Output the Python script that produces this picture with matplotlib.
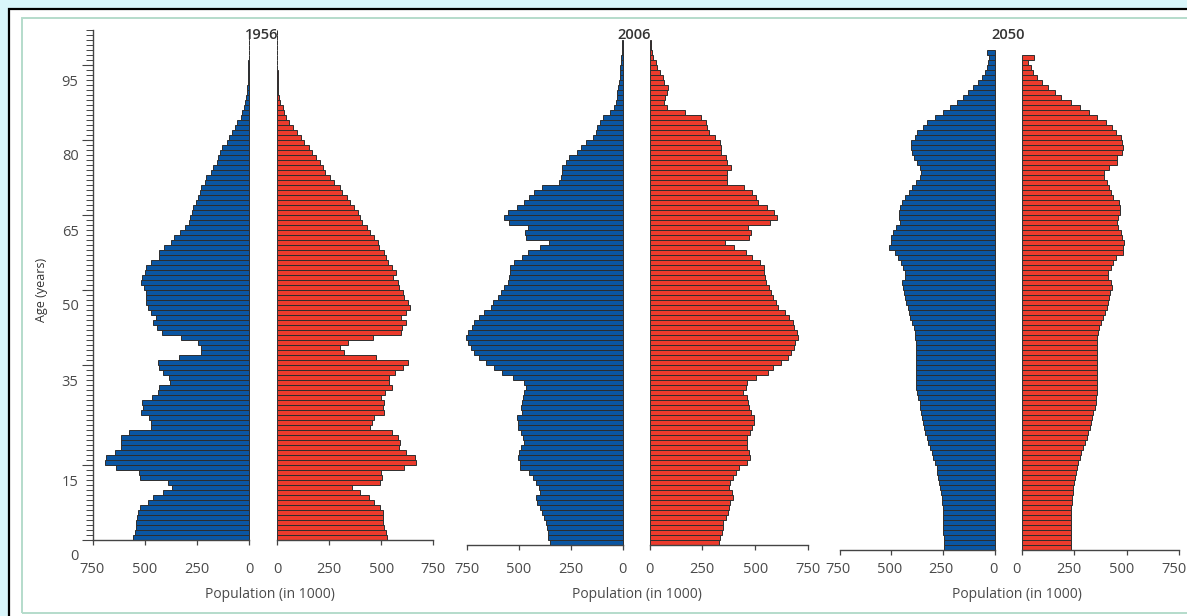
import matplotlib
matplotlib.use('Agg')
import matplotlib.pyplot as plt
from matplotlib.patches import Rectangle
from matplotlib.transforms import ScaledTranslation
import numpy as np

# population by single year of age, in 1000, index = age
male_1956 = [
    556, 548, 543, 540, 537, 532, 524, 484, 460, 412,
    369, 388, 524, 527, 636, 691, 684, 644, 612, 612,
    612, 577, 468, 468, 479, 516, 508, 515, 463, 434,
    431, 380, 383, 412, 431, 434, 337, 228, 228, 244,
    324, 415, 441, 460, 444, 468, 484, 492, 492, 492,
    505, 516, 511, 500, 492, 468, 431, 431, 409, 372,
    361, 332, 308, 287, 284, 271, 268, 252, 244, 236,
    228, 212, 204, 184, 172, 155, 147, 139, 131, 107,
    95, 83, 67, 56, 40, 34, 24, 19, 14, 11,
    8, 6, 5, 4, 3, 3, 2, 2, 2, 2,
    2, 2,
]
female_1956 = [
    528, 524, 511, 508, 508, 508, 495, 463, 441, 396,
    359, 492, 505, 499, 611, 664, 659, 620, 585, 588,
    579, 551, 447, 455, 466, 511, 508, 511, 499, 519,
    551, 535, 535, 567, 604, 627, 476, 319, 303, 338,
    460, 592, 601, 620, 592, 620, 635, 630, 611, 606,
    587, 582, 558, 572, 553, 534, 524, 515, 491, 486,
    466, 447, 433, 407, 399, 386, 370, 351, 335, 311,
    300, 271, 255, 231, 220, 204, 188, 167, 151, 130,
    114, 95, 79, 59, 43, 34, 27, 14, 11, 6,
    5, 4, 3, 3, 2, 2, 2, 2, 2, 2,
    2, 2,
]
male_2006 = [
    349, 358, 358, 365, 370, 381, 390, 397, 410, 418,
    397, 402, 418, 434, 450, 493, 493, 506, 498, 490,
    477, 482, 490, 502, 506, 509, 485, 490, 486, 482,
    474, 466, 477, 530, 582, 618, 658, 693, 714, 733,
    746, 754, 746, 726, 714, 690, 669, 634, 626, 602,
    586, 570, 550, 549, 541, 542, 525, 485, 454, 397,
    354, 466, 470, 458, 549, 573, 554, 509, 474, 450,
    426, 386, 306, 298, 294, 290, 274, 258, 221, 198,
    174, 141, 130, 122, 109, 94, 61, 42, 30, 26,
    26, 22, 18, 13, 13, 10, 8, 5, 3, 2,
    2,
]
female_2006 = [
    330, 333, 344, 349, 349, 360, 371, 376, 381, 397,
    392, 376, 381, 397, 408, 424, 463, 476, 471, 463,
    460, 463, 476, 487, 495, 495, 479, 471, 467, 460,
    444, 456, 460, 503, 559, 583, 622, 654, 670, 686,
    689, 705, 699, 683, 678, 662, 641, 607, 599, 583,
    575, 567, 551, 546, 540, 543, 524, 483, 456, 400,
    355, 471, 479, 467, 572, 603, 591, 556, 514, 503,
    487, 448, 365, 365, 368, 384, 368, 360, 339, 336,
    333, 308, 281, 273, 265, 244, 169, 85, 69, 74,
    85, 87, 69, 63, 50, 34, 31, 18, 10, 6,
    6,
]
male_2050 = [
    246, 246, 246, 249, 249, 249, 249, 252, 252, 254,
    257, 262, 265, 268, 273, 278, 281, 289, 297, 305,
    313, 321, 329, 337, 342, 348, 353, 356, 361, 364,
    369, 374, 379, 380, 381, 380, 379, 380, 381, 381,
    381, 382, 385, 385, 390, 401, 410, 413, 422, 431,
    434, 438, 445, 450, 434, 434, 445, 454, 466, 482,
    509, 503, 503, 493, 477, 458, 461, 461, 458, 450,
    434, 417, 401, 380, 361, 358, 361, 374, 393, 400,
    406, 405, 388, 374, 348, 326, 289, 252, 217, 185,
    153, 128, 104, 82, 64, 48, 40, 32, 27, 37,
]
female_2050 = [
    237, 237, 237, 237, 237, 237, 237, 237, 237, 240,
    242, 243, 246, 250, 253, 258, 262, 269, 278, 285,
    294, 301, 310, 316, 326, 332, 337, 342, 348, 353,
    355, 358, 358, 358, 358, 358, 358, 358, 358, 358,
    358, 358, 361, 364, 369, 377, 388, 396, 405, 412,
    417, 421, 432, 425, 412, 412, 425, 437, 448, 485,
    485, 488, 480, 472, 460, 456, 460, 469, 469, 464,
    437, 428, 417, 405, 393, 393, 418, 453, 456, 480,
    485, 480, 472, 448, 432, 401, 358, 321, 278, 234,
    189, 159, 127, 99, 75, 54, 43, 30, 59,
]

years = ['1956', '2006', '2050']
males = [male_1956, male_2006, male_2050]
females = [female_1956, female_2006, female_2050]
pop_ticks = [0, 250, 500, 750]
age_ticks = [0, 15, 35, 50, 65, 80, 95]
x_title = 'Population (in 1000)'
y_title = 'Age (years)'

W, H, DPI = 1187, 616, 100
BLUE = '#0a56a3'
RED = '#ec3b2c'
EDGE = '#2e2e2e'
AXIS = '#444444'
TEXT = '#4a4a4a'
PX_PER_YEAR = 5.0

plt.rcParams['font.family'] = ['Open Sans', 'DejaVu Sans']


def frac_box(x0, y0, x1, y1):
    # pixel box measured from the top-left corner -> figure fraction
    return [x0 / W, 1 - y1 / H, (x1 - x0) / W, (y1 - y0) / H]


fig = plt.figure(figsize=(W / DPI, H / DPI), dpi=DPI, facecolor='#d9f6fb')

# page frame: black outer rule, thin green inner rule
fig.add_artist(Rectangle((9 / W, 1 - 640 / H), (1220 - 9) / W, (640 - 9) / H,
                         transform=fig.transFigure, facecolor='white',
                         edgecolor='black', linewidth=1.6, zorder=0))
fig.add_artist(Rectangle((21.5 / W, 1 - 612.5 / H), (1220 - 21.5) / W, (612.5 - 17.5) / H,
                         transform=fig.transFigure, facecolor='none',
                         edgecolor='#b4dccb', linewidth=1.4, zorder=0))

# per panel: male x-span, female x-span, baseline y, number of years shown,
# tick-label pad, tick-label nudges (px) for male/female side, title x, axis-title x
layout = [
    dict(m=(92.5, 249.0), f=(277.0, 433.5), base=540, top=102, pad=12.0,
         dx=(0, 0), tx=262, lx=270),
    dict(m=(467.0, 622.5), f=(649.5, 808.0), base=545, top=100, pad=8.4,
         dx=(0, 0), tx=634, lx=637),
    dict(m=(839.5, 995.0), f=(1021.5, 1179.0), base=550, top=100, pad=4.8,
         dx=(-2, -5), tx=1008, lx=1017),
]

for i, (year, male, female, lay) in enumerate(zip(years, males, females, layout)):
    top_px = lay['base'] - PX_PER_YEAR * lay['top']
    ax_m = fig.add_axes(frac_box(lay['m'][0], top_px, lay['m'][1], lay['base']))
    ax_f = fig.add_axes(frac_box(lay['f'][0], top_px, lay['f'][1], lay['base']))

    ax_m.barh(np.arange(len(male)) + 0.5, male, height=1.0, color=BLUE,
              edgecolor=EDGE, linewidth=0.7, clip_on=False)
    ax_f.barh(np.arange(len(female)) + 0.5, female, height=1.0, color=RED,
              edgecolor=EDGE, linewidth=0.7, clip_on=False)
    ax_m.set_xlim(750, 0)
    ax_f.set_xlim(0, 750)

    for ax, dx in zip((ax_m, ax_f), lay['dx']):
        ax.set_ylim(0, lay['top'])
        ax.patch.set_visible(False)
        for side in ('top', 'right', 'left'):
            ax.spines[side].set_visible(False)
        ax.spines['bottom'].set_color(AXIS)
        ax.spines['bottom'].set_linewidth(1.0)
        ax.spines['bottom'].set_zorder(3)
        ax.set_xticks(pop_ticks)
        ax.tick_params(axis='x', direction='out', length=3.6, width=0.9,
                       color=AXIS, labelcolor=TEXT, labelsize=10.5, pad=lay['pad'])
        ax.set_yticks([])
        nudge = ScaledTranslation(dx / DPI, 0, fig.dpi_scale_trans)
        for lbl in ax.get_xticklabels():
            lbl.set_transform(lbl.get_transform() + nudge)

    fig.text(lay['tx'] / W, 1 - 35 / H, year, ha='center', va='center',
             fontsize=10.5, fontweight='semibold', color='#333333')
    fig.text(lay['lx'] / W, 1 - 594 / H, x_title, ha='center', va='center',
             fontsize=10, color=TEXT)

    if i == 0:
        # age scale on the first pyramid
        ax_m.spines['left'].set_visible(True)
        ax_m.spines['left'].set_color(AXIS)
        ax_m.spines['left'].set_linewidth(1.0)
        ax_m.set_yticks(age_ticks)
        ax_m.set_yticks(np.arange(0, lay['top'] + 1), minor=True)
        ax_m.tick_params(axis='y', which='major', direction='out', length=8,
                         width=0.8, color=AXIS, labelcolor=TEXT, labelsize=10.5, pad=2)
        ax_m.tick_params(axis='y', which='minor', direction='out', length=5,
                         width=0.7, color=AXIS)
        shift = ScaledTranslation(0, -0.15, fig.dpi_scale_trans)
        for lbl in ax_m.get_yticklabels():
            lbl.set_transform(lbl.get_transform() + shift)

fig.text(41 / W, 1 - 290 / H, y_title, rotation=90, ha='center', va='center',
         fontsize=9, color='#333333')

fig.savefig('out.png', dpi=DPI, facecolor=fig.get_facecolor())
